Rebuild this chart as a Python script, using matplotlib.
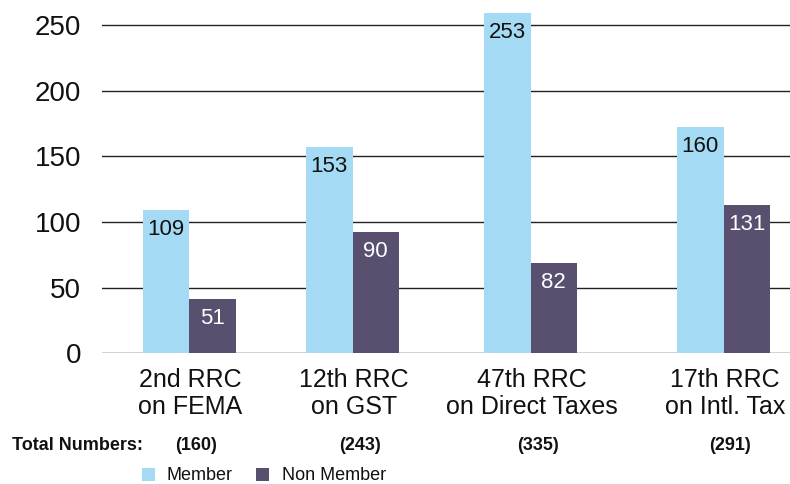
import matplotlib
matplotlib.use("Agg")
import matplotlib.pyplot as plt
from matplotlib.patches import Rectangle
from matplotlib.transforms import blended_transform_factory

plt.rcParams['font.family'] = ['Liberation Sans', 'DejaVu Sans']

# ---- data ----
cat_line1 = ["2nd RRC", "12th RRC", "47th RRC", "17th RRC"]
cat_line2 = ["on FEMA", "on GST", "on Direct Taxes", "on Intl. Tax"]
totals = ["(160)", "(243)", "(335)", "(291)"]
series_names = ["Member", "Non Member"]
# bar heights as drawn in the picture
member_heights = [109, 157, 259, 172]
nonmember_heights = [41, 92, 69, 113]
# values printed on the bars
member_labels = [109, 153, 253, 160]
nonmember_labels = [51, 90, 82, 131]
yticks = [0, 50, 100, 150, 200, 250]

# ---- layout ----
W, H = 790, 484
group_pos = [87, 250.5, 428.5, 621.5]   # group centres (axis units ~ px)
bar_w = 46.5
c_member = "#A4DAF3"
c_non = "#595070"

fig = plt.figure(figsize=(W / 100, H / 100), dpi=100)
ax_left, ax_bottom = 102 / W, (H - 353.3) / H
ax = fig.add_axes([ax_left, ax_bottom, 1 - ax_left, 1 - ax_bottom])
ax.set_xlim(0, 688)
ax.set_ylim(0, 269)

for y in yticks:
    ax.axhline(y, color="#222222", lw=1.0, zorder=1)

xm = [p - bar_w / 2 for p in group_pos]
xn = [p + bar_w / 2 for p in group_pos]
ax.bar(xm, member_heights, width=bar_w, color=c_member, zorder=2)
ax.bar(xn, nonmember_heights, width=bar_w, color=c_non, zorder=2)

for x, h, lab in zip(xm, member_heights, member_labels):
    ax.annotate(str(lab), (x, h), xytext=(0, -9), textcoords="offset pixels",
                ha="center", va="top", fontsize=16, color="#111111", zorder=3)
for x, h, lab in zip(xn, nonmember_heights, nonmember_labels):
    ax.annotate(str(lab), (x, h), xytext=(0, -9), textcoords="offset pixels",
                ha="center", va="top", fontsize=16, color="white", zorder=3)

ax.set_yticks(yticks)
ax.set_yticklabels([str(v) for v in yticks], fontsize=20, color="#111111")
ax.tick_params(axis="y", length=0, pad=15)
ax.set_xticks([])
for s in ax.spines.values():
    s.set_visible(False)

tr = blended_transform_factory(ax.transData, fig.transFigure)
for p, l1, l2, t in zip(group_pos, cat_line1, cat_line2, totals):
    ax.text(p + 1.5, (H - 386.7) / H, l1, transform=tr, ha="center", va="baseline",
            fontsize=18, color="#111111")
    ax.text(p + 1.5, (H - 414) / H, l2, transform=tr, ha="center", va="baseline",
            fontsize=18, color="#111111")
    ax.text(p + 7, (H - 450) / H, t, transform=tr, ha="center", va="baseline",
            fontsize=13, fontweight="bold", color="#111111")

fig.text(12 / W, (H - 450) / H, "Total Numbers:", ha="left", va="baseline",
         fontsize=13, fontweight="bold", color="#111111")

# legend
leg_items = [(141.7, 166.7, c_member, series_names[0]),
             (256.0, 281.7, c_non, series_names[1])]
for sx, tx, col, name in leg_items:
    fig.add_artist(Rectangle((sx / W, (H - 481) / H), 13 / W, 13 / H,
                             transform=fig.transFigure, color=col, lw=0))
    fig.text(tx / W, (H - 480) / H, name, ha="left", va="baseline",
             fontsize=13, color="#111111")

fig.savefig("out.png", dpi=100)
